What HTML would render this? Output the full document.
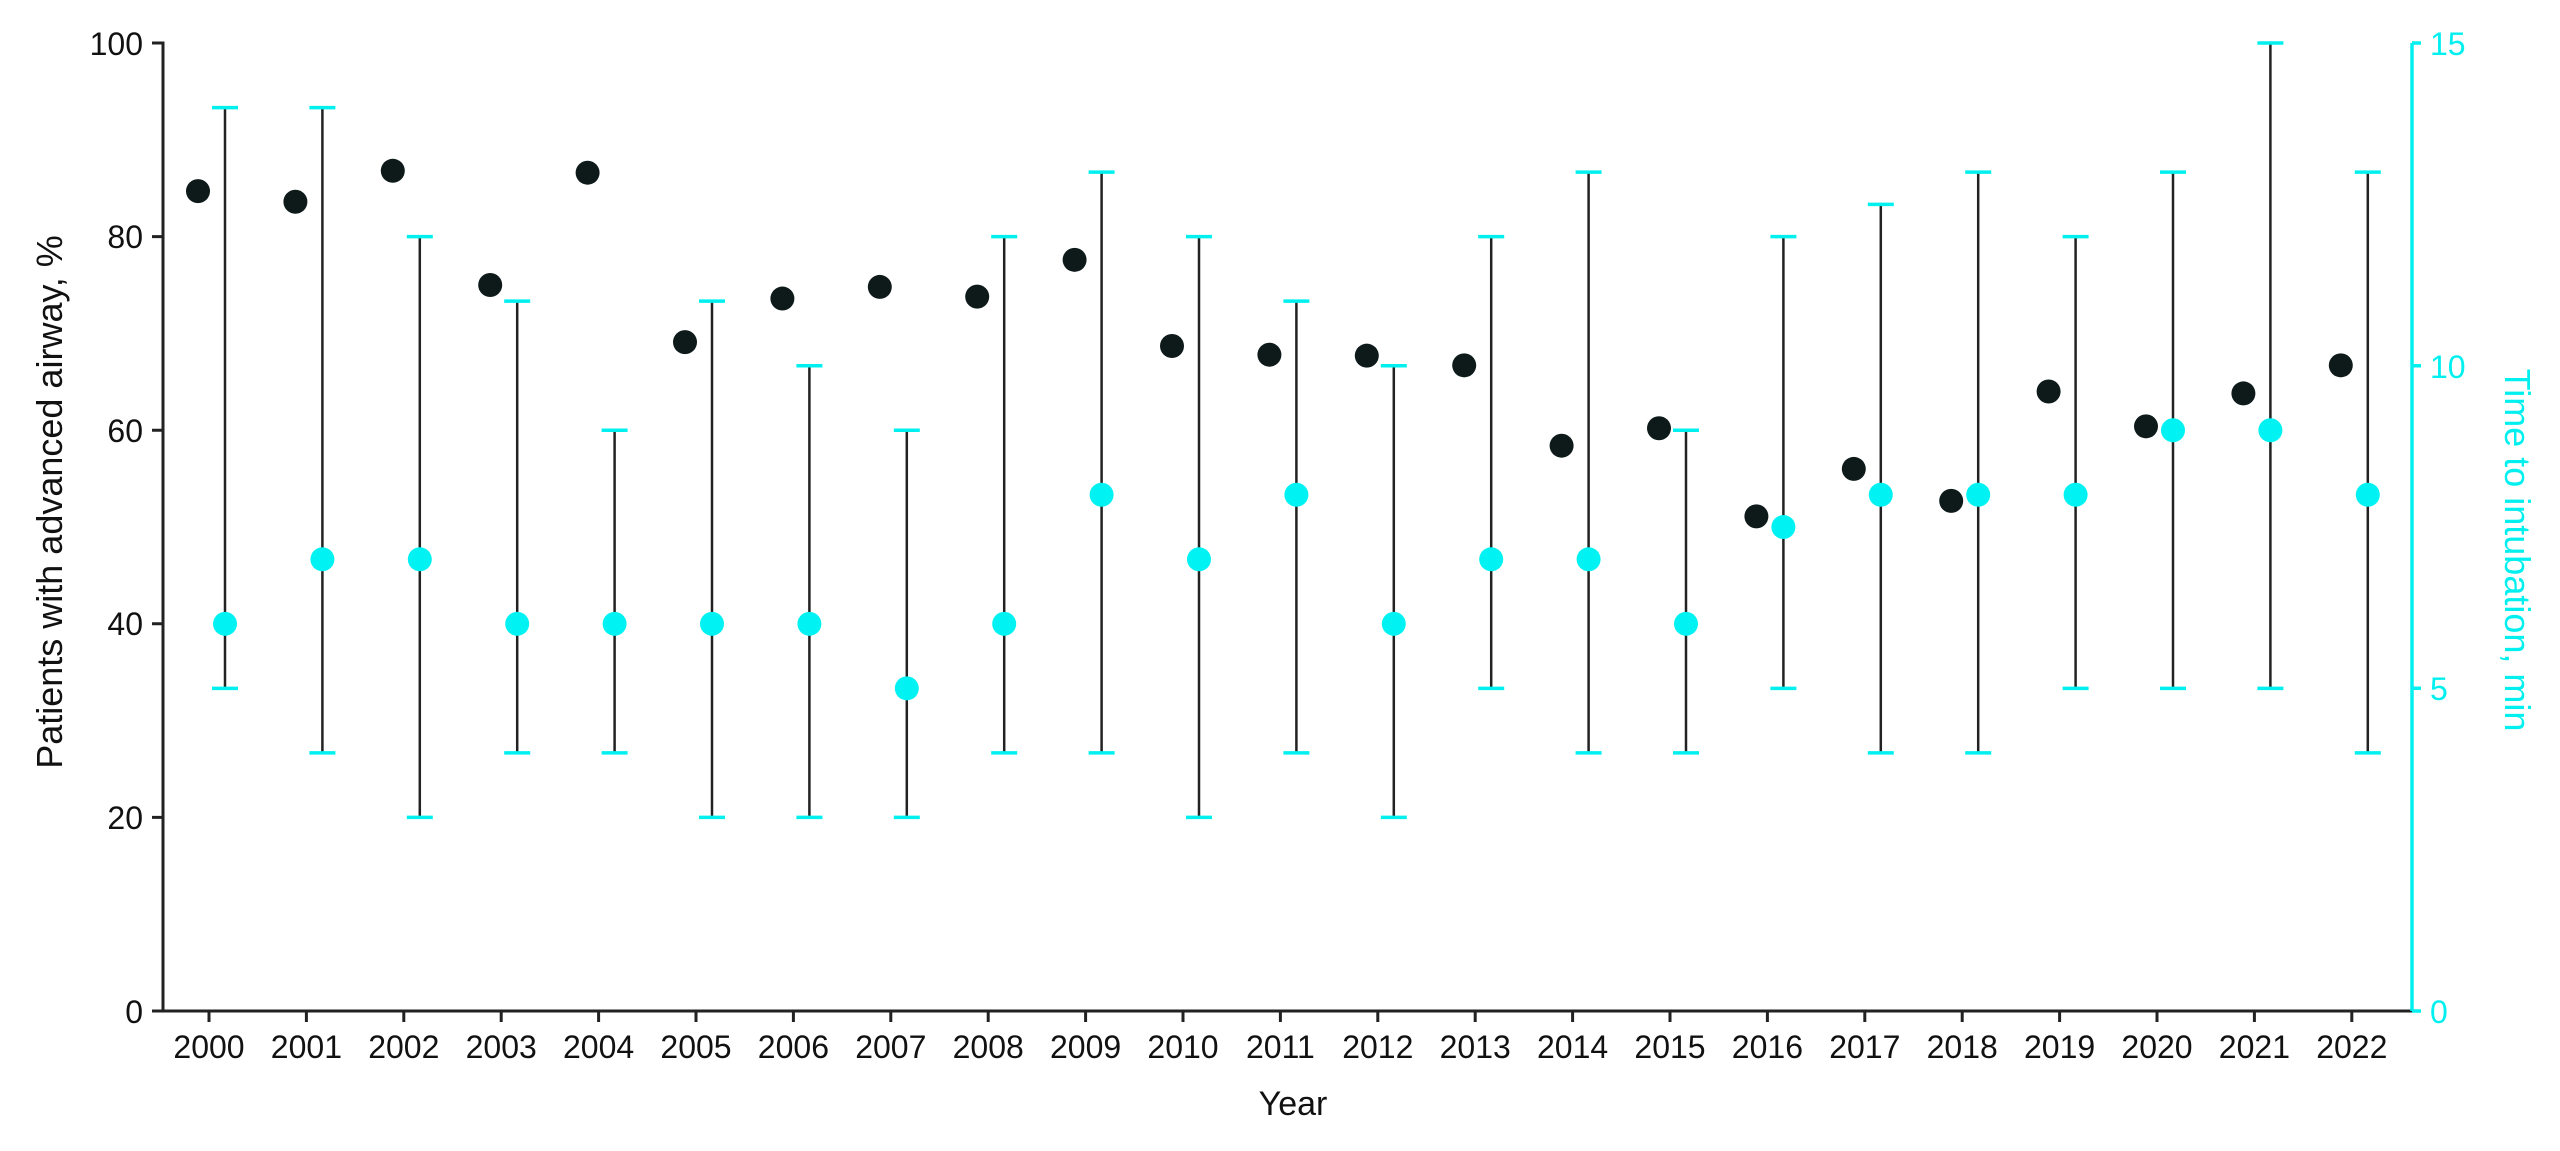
<!DOCTYPE html>
<html><head><meta charset="utf-8"><style>html,body{margin:0;padding:0;background:#fff}svg{display:block}text{font-family:"Liberation Sans",sans-serif}</style></head>
<body>
<svg id="s" width="2560" height="1151" viewBox="0 0 2560 1151" xmlns="http://www.w3.org/2000/svg">
<g id="data"></g>
<path d="M152 43H163V1011H2412" fill="none" stroke="#222" stroke-width="3"/>
<path d="M152 236.6H163M152 430.2H163M152 623.8H163M152 817.4H163M152 1011H163" stroke="#222" stroke-width="3"/>
<g font-size="32" text-anchor="end" fill="#111">
<text x="143" y="55">100</text><text x="143" y="248">80</text><text x="143" y="442">60</text><text x="143" y="635">40</text><text x="143" y="829">20</text><text x="143" y="1023">0</text>
</g>
<path d="M2412 43V1011M2412 43H2421M2412 365.7H2421M2412 688.3H2421M2412 1011H2421" fill="none" stroke="#00f0f0" stroke-width="3.5"/>
<g font-size="32" fill="#00f0f0">
<text x="2430" y="55">15</text><text x="2430" y="378">10</text><text x="2430" y="700">5</text><text x="2430" y="1023">0</text>
</g>
<g id="xt" font-size="32" text-anchor="middle" fill="#111">
<text x="209" y="1058">2000</text><text x="306.4" y="1058">2001</text><text x="403.8" y="1058">2002</text><text x="501.2" y="1058">2003</text><text x="598.6" y="1058">2004</text><text x="696" y="1058">2005</text><text x="793.4" y="1058">2006</text><text x="890.8" y="1058">2007</text><text x="988.2" y="1058">2008</text><text x="1085.6" y="1058">2009</text><text x="1183" y="1058">2010</text><text x="1280.4" y="1058">2011</text><text x="1377.8" y="1058">2012</text><text x="1475.2" y="1058">2013</text><text x="1572.6" y="1058">2014</text><text x="1670" y="1058">2015</text><text x="1767.4" y="1058">2016</text><text x="1864.8" y="1058">2017</text><text x="1962.2" y="1058">2018</text><text x="2059.6" y="1058">2019</text><text x="2157" y="1058">2020</text><text x="2254.4" y="1058">2021</text><text x="2351.8" y="1058">2022</text>
</g>
<text x="1293" y="1115" font-size="34" text-anchor="middle" fill="#111">Year</text>
<text transform="translate(62,502) rotate(-90)" font-size="36" text-anchor="middle" fill="#111">Patients with advanced airway, %</text>
<text transform="translate(2505,550) rotate(90)" font-size="36" text-anchor="middle" fill="#00f0f0">Time to intubation, min</text>
</svg>
<script>
var pct=[84.7,83.6,86.8,75.0,86.6,69.1,73.6,74.8,73.8,77.6,68.7,67.8,67.7,66.7,58.4,60.2,51.1,56.0,52.7,64.0,60.4,63.8,66.7];
var c=[[6,5,14],[7,4,14],[7,3,12],[6,4,11],[6,4,9],[6,3,11],[6,3,10],[5,3,9],[6,4,12],[8,4,13],[7,3,12],[8,4,11],[6,3,10],[7,5,12],[7,4,13],[6,4,9],[7.5,5,12],[8,4,12.5],[8,4,13],[8,5,12],[9,5,13],[9,5,15],[8,4,13]];
var h='';
for(var i=0;i<23;i++){var x=209+97.4*i;
h+='<path d="M'+x+' 1011V1022" stroke="#222" stroke-width="3"/>';
var cx=x+16,ym=1011-c[i][0]*64.53,yl=1011-c[i][1]*64.53,yh=1011-c[i][2]*64.53;
h+='<path d="M'+cx+' '+yl+'V'+yh+'" stroke="#222" stroke-width="2.5"/>';
h+='<path d="M'+(cx-13)+' '+yl+'H'+(cx+13)+'M'+(cx-13)+' '+yh+'H'+(cx+13)+'" stroke="#00f0f0" stroke-width="3.5"/>';
h+='<circle cx="'+cx+'" cy="'+ym+'" r="12" fill="#00f2f2"/>';
h+='<circle cx="'+(x-11)+'" cy="'+(1011-pct[i]*9.68)+'" r="12" fill="#0e1a1a"/>';}
document.getElementById('data').innerHTML=h;
</script>
</body></html>
